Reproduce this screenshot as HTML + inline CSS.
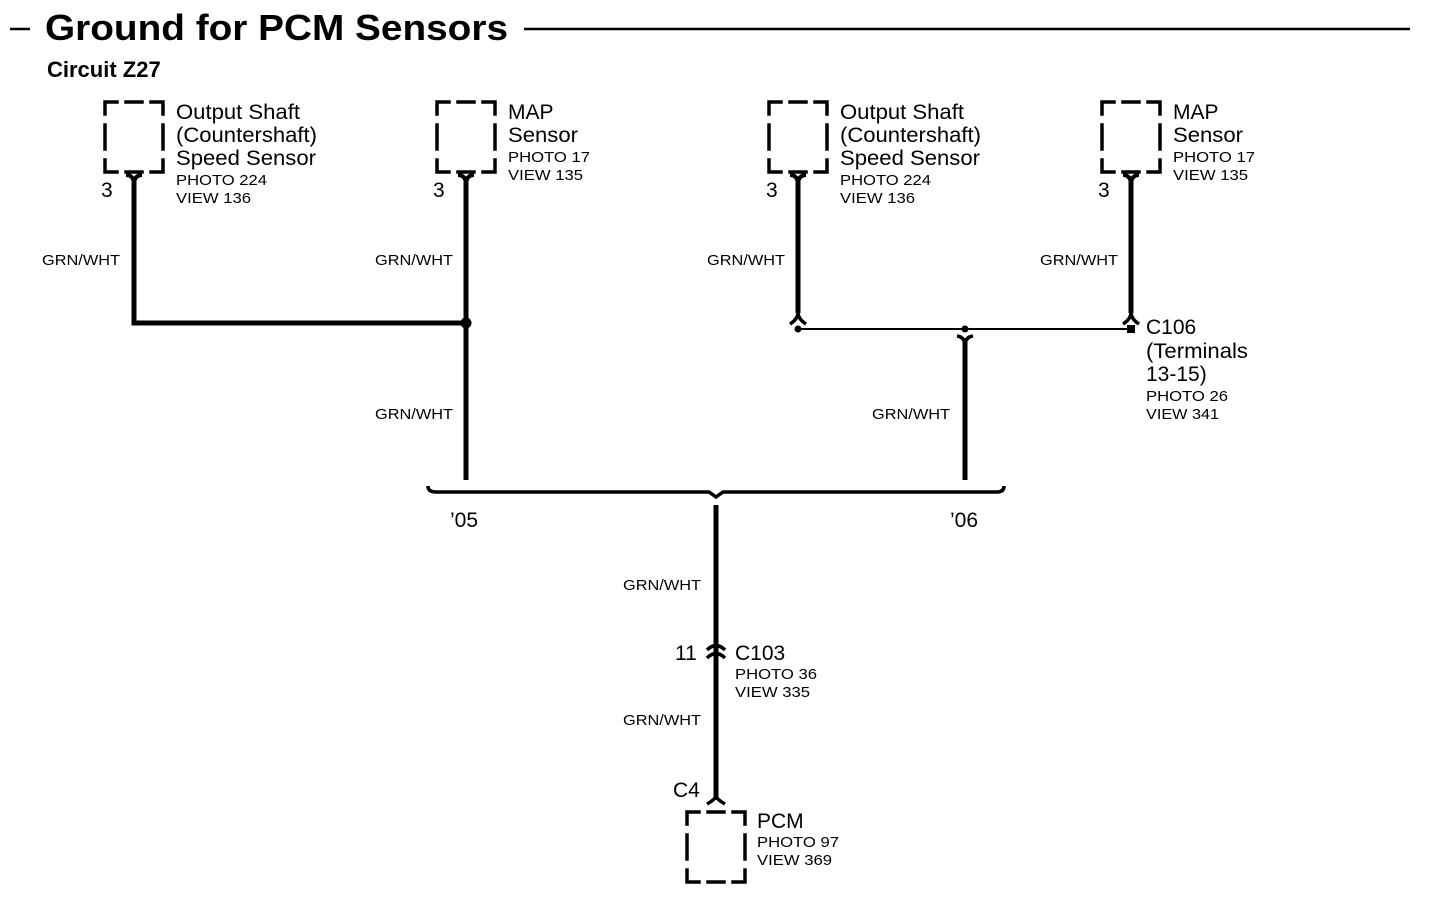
<!DOCTYPE html>
<html><head><meta charset="utf-8"><style>
html,body{margin:0;padding:0;background:#fff;}
svg{display:block;}
text{font-family:"Liberation Sans",Arial,sans-serif;fill:#000;}
.b{font-size:21px}.s{font-size:15px}.w{font-size:15px}
</style></head><body>
<svg width="1456" height="924" viewBox="0 0 1456 924" xmlns="http://www.w3.org/2000/svg">
<defs>
<g id="box" fill="none" stroke="#000" stroke-width="3.5" stroke-linecap="square">
<path d="M0,12 V0 H12 M46,0 H58 V12 M58,58 V70 H46 M12,70 H0 V58 M21,0 H37 M21,70 H37 M0,23 V47 M58,23 V47"/>
</g>
<path id="fork" d="M-8,175 Q0,175 0,185 Q0,175 8,175" fill="none" stroke="#000" stroke-width="4"/>
</defs>

<line x1="10" y1="29" x2="30" y2="29" stroke="#000" stroke-width="2.5"/>
<text x="45" y="40" font-size="36" font-weight="bold" textLength="463" lengthAdjust="spacingAndGlyphs">Ground for PCM Sensors</text>
<line x1="524" y1="29" x2="1410" y2="29" stroke="#000" stroke-width="2.5"/>
<text x="47" y="77" font-size="22" font-weight="bold">Circuit Z27</text>

<use href="#box" x="105" y="102"/>
<use href="#box" x="437" y="102"/>
<use href="#box" x="769" y="102"/>
<use href="#box" x="1102" y="102"/>
<use href="#box" x="687" y="812"/>

<use href="#fork" x="134" y="0"/>
<use href="#fork" x="466" y="0"/>
<use href="#fork" x="798" y="0"/>
<use href="#fork" x="1131" y="0"/>

<g stroke="#000" stroke-width="5" fill="none">
<path d="M134,182 V323 H466"/>
<path d="M466,182 V480"/>
<path d="M798,182 V313"/>
<path d="M1131,182 V313"/>
<path d="M965,340 V480"/>
<path d="M716,505 V800"/>
</g>
<g stroke="#000" stroke-width="3.5" fill="none">
<path d="M790,324 Q798,319 798,312 Q798,319 806,324"/>
<path d="M1123,324 Q1131,319 1131,312 Q1131,319 1139,324"/>
<path d="M957,336 Q965,337 965,346 Q965,337 973,336"/>
<path d="M707,650 Q716,641 725,650 M707,658 Q716,649 725,658"/>
<path d="M707,804 Q716,799 716,795 Q716,799 725,804"/>
<path d="M428,486 Q428,492 436,492 H709 L716,497 L723,492 H997 Q1004,492 1004,486"/>
</g>
<line x1="798" y1="329" x2="1131" y2="329" stroke="#000" stroke-width="2"/>
<circle cx="466" cy="323" r="5.5" fill="#000"/>
<circle cx="798" cy="329" r="3.5" fill="#000"/>
<circle cx="965" cy="329" r="3.5" fill="#000"/>
<rect x="1127" y="325" width="8" height="8" fill="#000"/>

<text class="b" x="176" y="119" textLength="124" lengthAdjust="spacingAndGlyphs">Output Shaft</text>
<text class="b" x="176" y="142" textLength="141" lengthAdjust="spacingAndGlyphs">(Countershaft)</text>
<text class="b" x="176" y="165" textLength="140" lengthAdjust="spacingAndGlyphs">Speed Sensor</text>
<text class="s" x="176" y="185" textLength="91" lengthAdjust="spacingAndGlyphs">PHOTO 224</text>
<text class="s" x="176" y="203" textLength="75" lengthAdjust="spacingAndGlyphs">VIEW 136</text>
<text class="b" x="101" y="197">3</text>

<text class="b" x="508" y="119">MAP</text>
<text class="b" x="508" y="142" textLength="70" lengthAdjust="spacingAndGlyphs">Sensor</text>
<text class="s" x="508" y="162" textLength="82" lengthAdjust="spacingAndGlyphs">PHOTO 17</text>
<text class="s" x="508" y="180" textLength="75" lengthAdjust="spacingAndGlyphs">VIEW 135</text>
<text class="b" x="433" y="197">3</text>

<text class="b" x="840" y="119" textLength="124" lengthAdjust="spacingAndGlyphs">Output Shaft</text>
<text class="b" x="840" y="142" textLength="141" lengthAdjust="spacingAndGlyphs">(Countershaft)</text>
<text class="b" x="840" y="165" textLength="140" lengthAdjust="spacingAndGlyphs">Speed Sensor</text>
<text class="s" x="840" y="185" textLength="91" lengthAdjust="spacingAndGlyphs">PHOTO 224</text>
<text class="s" x="840" y="203" textLength="75" lengthAdjust="spacingAndGlyphs">VIEW 136</text>
<text class="b" x="766" y="197">3</text>

<text class="b" x="1173" y="119">MAP</text>
<text class="b" x="1173" y="142" textLength="70" lengthAdjust="spacingAndGlyphs">Sensor</text>
<text class="s" x="1173" y="162" textLength="82" lengthAdjust="spacingAndGlyphs">PHOTO 17</text>
<text class="s" x="1173" y="180" textLength="75" lengthAdjust="spacingAndGlyphs">VIEW 135</text>
<text class="b" x="1098" y="197">3</text>

<text class="b" x="1146" y="334">C106</text>
<text class="b" x="1146" y="358" textLength="102" lengthAdjust="spacingAndGlyphs">(Terminals</text>
<text class="b" x="1146" y="381">13-15)</text>
<text class="s" x="1146" y="401" textLength="82" lengthAdjust="spacingAndGlyphs">PHOTO 26</text>
<text class="s" x="1146" y="419" textLength="73" lengthAdjust="spacingAndGlyphs">VIEW 341</text>

<text class="w" x="42" y="265" textLength="78" lengthAdjust="spacingAndGlyphs">GRN/WHT</text>
<text class="w" x="375" y="265" textLength="78" lengthAdjust="spacingAndGlyphs">GRN/WHT</text>
<text class="w" x="707" y="265" textLength="78" lengthAdjust="spacingAndGlyphs">GRN/WHT</text>
<text class="w" x="1040" y="265" textLength="78" lengthAdjust="spacingAndGlyphs">GRN/WHT</text>
<text class="w" x="375" y="419" textLength="78" lengthAdjust="spacingAndGlyphs">GRN/WHT</text>
<text class="w" x="872" y="419" textLength="78" lengthAdjust="spacingAndGlyphs">GRN/WHT</text>
<text class="w" x="623" y="590" textLength="78" lengthAdjust="spacingAndGlyphs">GRN/WHT</text>
<text class="w" x="623" y="725" textLength="78" lengthAdjust="spacingAndGlyphs">GRN/WHT</text>

<text class="b" x="450" y="527">’05</text>
<text class="b" x="950" y="527">’06</text>

<text class="b" x="675" y="660">11</text>
<text class="b" x="735" y="660">C103</text>
<text class="s" x="735" y="679" textLength="82" lengthAdjust="spacingAndGlyphs">PHOTO 36</text>
<text class="s" x="735" y="697" textLength="75" lengthAdjust="spacingAndGlyphs">VIEW 335</text>

<text class="b" x="673" y="797">C4</text>
<text class="b" x="757" y="828">PCM</text>
<text class="s" x="757" y="847" textLength="82" lengthAdjust="spacingAndGlyphs">PHOTO 97</text>
<text class="s" x="757" y="865" textLength="75" lengthAdjust="spacingAndGlyphs">VIEW 369</text>
</svg>
</body></html>
